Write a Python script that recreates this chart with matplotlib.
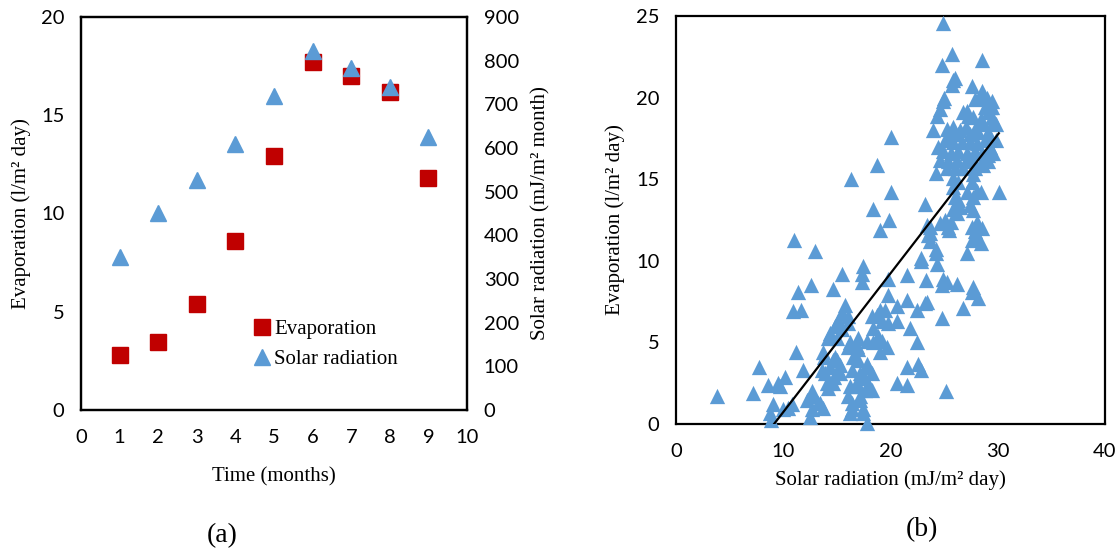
import matplotlib
matplotlib.use("Agg")
import matplotlib.pyplot as plt
from matplotlib.lines import Line2D

# (a) dados mensais
meses = [1, 2, 3, 4, 5, 6, 7, 8, 9]
evaporacao = [2.8, 3.45, 5.4, 8.6, 12.95, 17.7, 17.0, 16.2, 11.8]
radiacao = [350, 452, 527, 610, 718, 823, 783, 740, 625]

# (b) dispersao radiacao x evaporacao
rad_x = [
    3.8, 7.2, 7.7, 8.6, 9.5, 10.2, 9.7, 9.0, 8.8, 8.9, 10.4, 10.8, 10.0,
    11.0, 13.0, 11.2, 11.8, 10.9, 11.7, 11.4, 12.6,
    12.7, 12.8, 12.2, 12.5, 13.4, 13.7, 12.7, 13.2,
    13.8, 13.6, 14.4, 14.7, 14.1, 14.2, 15.0, 15.3, 14.6, 13.9, 15.1, 14.8, 15.3, 14.6, 13.7,
    14.4, 14.2, 14.8, 15.1, 15.5, 15.8, 16.0, 15.5, 16.0, 15.0,
    14.6, 15.5, 17.4, 17.3, 17.3, 19.8, 21.5, 22.8, 23.5, 23.7, 24.2, 24.3, 25.5,
    27.1, 27.6, 28.4, 27.9, 23.3, 24.9, 24.8, 25.3, 26.2, 27.7, 28.2, 26.8, 24.8, 25.2,
    23.4, 22.5, 21.5, 20.6, 19.8, 19.0, 18.7, 20.6, 19.8, 21.8, 22.5,
    18.4, 18.8, 19.7, 18.4, 17.8, 17.0, 16.9, 16.2, 16.0, 19.2, 19.0, 19.2, 18.3, 19.5, 17.0,
    21.5, 22.6, 22.8, 20.6, 21.5,
    16.5, 17.0, 17.8, 18.3, 16.4, 17.2, 17.6, 16.9, 18.0, 16.2, 18.3, 17.2, 16.4, 16.2, 17.4, 17.8,
    17.9, 17.4, 16.7, 17.6, 16.0, 17.2, 16.4, 17.4,
    18.7, 16.3, 20.0, 30.1, 23.2, 18.4, 19.9, 19.0, 20.0, 24.2,
    24.9, 25.7, 24.8, 28.5, 25.8, 26.0, 25.7, 27.6, 28.5, 28.4, 27.9, 25.0, 24.9,
    29.5, 29.3, 28.8, 24.6, 24.3, 27.1, 27.2, 26.8, 29.5, 29.6, 28.4, 28.6, 24.0,
    25.3, 25.8, 27.0, 27.9, 25.6, 26.3, 27.4, 28.2, 29.1, 29.3,
    24.4, 25.1, 25.8, 26.7, 27.4, 28.1, 28.8, 29.3,
    24.9, 25.6, 26.3, 27.1, 27.9, 28.5, 29.1, 29.6,
    24.6, 25.4, 26.2, 27.0, 27.7, 28.4, 29.1,
    25.3, 26.0, 26.8, 27.9, 28.6, 25.8, 27.7,
    26.3, 25.8, 27.6, 28.1, 28.4, 27.7, 26.0, 27.1,
    26.3, 26.5, 27.4, 27.7, 26.2, 25.8,
    25.1, 25.6, 24.6, 28.1, 28.5, 27.6, 23.4, 23.7, 25.4, 23.7, 22.8, 24.2, 28.1,
    29.8, 29.8, 29.0, 29.5, 29.1, 27.7, 26.5, 23.2, 27.6,
]
evap_y = [
    1.7, 1.9, 3.5, 2.4, 2.5, 2.9, 2.3, 1.2, 0.7, 0.25, 1.0, 1.2, 0.9,
    11.3, 10.6, 4.4, 3.3, 6.9, 7.0, 8.1, 8.5,
    2.0, 1.7, 1.5, 0.4, 1.3, 1.0, 0.9, 1.3,
    4.1, 3.3, 3.5, 2.9, 2.5, 2.2, 3.9, 3.6, 3.9, 3.1, 3.3, 4.1, 3.1, 2.5, 4.4,
    5.6, 5.3, 6.0, 6.4, 6.8, 7.3, 6.6, 5.8, 6.2, 5.3,
    8.3, 9.2, 9.7, 9.2, 8.7, 8.9, 9.1, 10.0, 11.6, 11.2, 10.5, 9.8, 11.9,
    10.5, 11.3, 11.1, 11.8, 8.8, 8.9, 8.5, 8.7, 8.6, 8.4, 7.7, 7.1, 6.5, 2.0,
    7.5, 7.0, 7.6, 7.2, 7.9, 7.0, 6.7, 6.3, 6.2, 5.9, 5.0,
    5.9, 5.4, 4.7, 5.0, 5.1, 5.3, 4.8, 5.0, 4.7, 5.1, 4.4, 6.3, 6.6, 7.0, 4.6,
    3.5, 3.7, 3.3, 2.5, 2.4,
    4.1, 3.9, 3.7, 3.1, 3.3, 3.1, 2.8, 2.5, 2.3, 2.3, 2.1, 1.7, 1.3, 0.7, 0.9, 0.05,
    3.5, 2.9, 2.3, 2.1, 1.7, 1.5, 0.9, 0.7,
    15.9, 15.0, 14.2, 14.2, 13.5, 13.2, 12.5, 11.9, 17.6, 15.4,
    24.6, 22.7, 22.0, 22.3, 21.1, 21.2, 20.8, 20.7, 20.4, 20.0, 19.9, 20.0, 19.8,
    19.8, 19.4, 19.4, 19.3, 18.9, 19.2, 18.9, 19.1, 18.8, 18.5, 18.7, 18.4, 18.0,
    18.1, 18.2, 18.2, 18.1, 17.8, 17.8, 17.8, 17.9, 17.9, 17.6,
    17.0, 17.4, 17.3, 17.3, 17.3, 17.2, 17.4, 17.0,
    16.7, 16.6, 16.7, 16.6, 16.7, 16.6, 16.5, 16.6,
    16.2, 16.1, 16.2, 16.1, 16.2, 16.0, 16.1,
    15.7, 15.7, 15.7, 15.7, 15.9, 15.1, 15.3,
    14.8, 14.5, 14.8, 14.3, 14.2, 13.9, 13.9, 14.2,
    13.7, 13.3, 13.4, 13.1, 12.9, 13.2,
    12.5, 12.4, 12.3, 12.4, 12.0, 12.1, 12.2, 11.7, 12.1, 12.1, 10.2, 10.7, 11.4,
    18.4, 17.4, 20.0, 19.4, 19.1, 18.8, 18.0, 7.4, 8.1,
]

# linha de tendencia (ajuste linear do Excel)
tend_incl = 0.85
tend_lin = -7.77

vermelho = '#C00000'
azul = '#5B9BD5'
fonte_num = 'Lato'
fonte_txt = 'Liberation Serif'
tam_num = 14.5
tam_txt = 15

fig = plt.figure(figsize=(11.2, 5.52), dpi=100)

# ---------------- (a)
ax1 = fig.add_axes([81/1120, 1 - 410/552, 386/1120, 393/552])
ax1b = ax1.twinx()

ax1.plot(meses, evaporacao, 's', color=vermelho, markersize=11, zorder=3)
ax1b.plot(meses, radiacao, '^', color=azul, markersize=11, zorder=4)

ax1.set_xlim(0, 10)
ax1.set_ylim(0, 20)
ax1b.set_ylim(0, 900)
ax1.set_xticks(range(0, 11))
ax1.set_yticks([0, 5, 10, 15, 20])
ax1b.set_yticks(range(0, 901, 100))

for a in (ax1, ax1b):
    a.tick_params(length=0, labelsize=tam_num, pad=12)
    for lab in a.get_xticklabels() + a.get_yticklabels():
        lab.set_fontfamily(fonte_num)
    for s in a.spines.values():
        s.set_linewidth(1.6)
ax1.tick_params(axis='x', pad=14)

ax1.set_xlabel('Time (months)', fontsize=tam_txt, fontfamily=fonte_txt, va='center')
ax1.xaxis.set_label_coords(0.5, -(477 - 410) / 393)
ax1.set_ylabel('Evaporation (l/m² day)', fontsize=tam_txt, fontfamily=fonte_txt, va='center')
ax1.yaxis.set_label_coords(-(81 - 21) / 386, 0.5)
ax1b.set_ylabel('Solar radiation (mJ/m² month)', fontsize=tam_txt, fontfamily=fonte_txt,
                va='center', rotation=90)
ax1b.yaxis.set_label_coords(1 + (541 - 467) / 386, 0.5)

handles = [Line2D([], [], marker='s', color=vermelho, linestyle='none', markersize=11),
           Line2D([], [], marker='^', color=azul, linestyle='none', markersize=11)]
leg = ax1b.legend(handles, ['Evaporation', 'Solar radiation'], loc='upper left',
                  bbox_to_anchor=((245 - 81) / 386, 1 - (309 - 17) / 393),
                  frameon=False, handlelength=0.6, handletextpad=0.3,
                  labelspacing=0.5, borderpad=0, prop={'family': fonte_txt, 'size': tam_txt})

fig.text(222/1120, 1 - 536/552, '(a)', fontsize=20, fontfamily=fonte_txt,
         ha='center', va='center')

# ---------------- (b)
ax2 = fig.add_axes([676/1120, 1 - 424/552, 429/1120, 408/552])
ax2.scatter(rad_x, evap_y, marker='^', s=121, color=azul, linewidths=0,
            zorder=3, clip_on=False)

xl = [min(rad_x), max(rad_x)]
ax2.plot(xl, [tend_incl * v + tend_lin for v in xl], color='black', lw=1.6, zorder=4)

ax2.set_xlim(0, 40)
ax2.set_ylim(0, 25)
ax2.set_xticks([0, 10, 20, 30, 40])
ax2.set_yticks([0, 5, 10, 15, 20, 25])
ax2.tick_params(length=0, labelsize=tam_num, pad=12)
ax2.tick_params(axis='x', pad=14)
for lab in ax2.get_xticklabels() + ax2.get_yticklabels():
    lab.set_fontfamily(fonte_num)
for s in ax2.spines.values():
    s.set_linewidth(1.6)

ax2.set_xlabel('Solar radiation (mJ/m² day)', fontsize=tam_txt, fontfamily=fonte_txt, va='center')
ax2.xaxis.set_label_coords(0.5, -(480 - 424) / 408)
ax2.set_ylabel('Evaporation (l/m² day)', fontsize=tam_txt, fontfamily=fonte_txt, va='center')
ax2.yaxis.set_label_coords(-(676 - 615) / 429, 0.5)

fig.text(922/1120, 1 - 530/552, '(b)', fontsize=20, fontfamily=fonte_txt,
         ha='center', va='center')

fig.savefig('out.png', dpi=100)
